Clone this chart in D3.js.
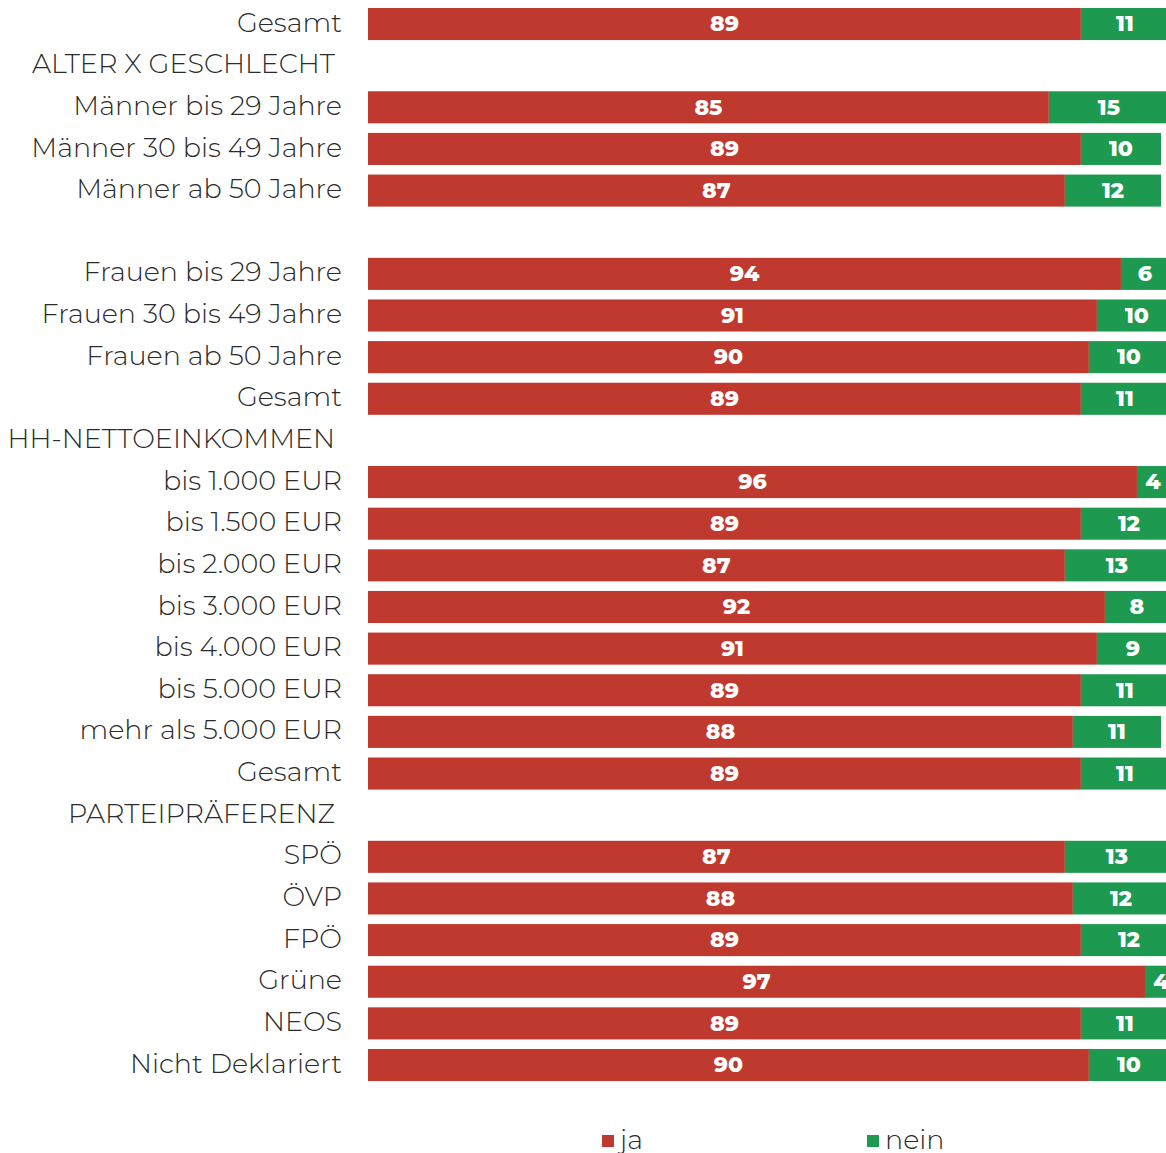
<!DOCTYPE html>
<html>
<head>
<meta charset="utf-8">
<script src="https://cdn.jsdelivr.net/npm/d3@7"></script>
<style>
  body { margin: 0; background: #fff; }
  svg { display: block; }
  .lbl { font-family: Montserrat, "Open Sans", sans-serif; font-weight: 300; fill: #2b2b2b; }
  .val { font-family: Montserrat, "Open Sans", sans-serif; font-weight: 800; fill: #fff; }
</style>
</head>
<body>
<svg id="chart"></svg>
<script>
// row labels, header rows have type 'h', empty spacer 'e', bars 'b'
const labels = [
  'Gesamt', 'ALTER X GESCHLECHT', 'Männer bis 29 Jahre', 'Männer 30 bis 49 Jahre', 'Männer ab 50 Jahre', '',
  'Frauen bis 29 Jahre', 'Frauen 30 bis 49 Jahre', 'Frauen ab 50 Jahre', 'Gesamt', 'HH-NETTOEINKOMMEN',
  'bis 1.000 EUR', 'bis 1.500 EUR', 'bis 2.000 EUR', 'bis 3.000 EUR', 'bis 4.000 EUR', 'bis 5.000 EUR',
  'mehr als 5.000 EUR', 'Gesamt', 'PARTEIPRÄFERENZ', 'SPÖ', 'ÖVP', 'FPÖ', 'Grüne', 'NEOS', 'Nicht Deklariert',
];
const rowType = ['b', 'h', 'b', 'b', 'b', 'e', 'b', 'b', 'b', 'b', 'h', 'b', 'b', 'b', 'b', 'b', 'b', 'b', 'b', 'h', 'b', 'b', 'b', 'b', 'b', 'b'];
const ja = [89, null, 85, 89, 87, null, 94, 91, 90, 89, null, 96, 89, 87, 92, 91, 89, 88, 89, null, 87, 88, 89, 97, 89, 90];
const nein = [11, null, 15, 10, 12, null, 6, 10, 10, 11, null, 4, 12, 13, 8, 9, 11, 11, 11, null, 13, 12, 12, 4, 11, 10];
const seriesNames = ['ja', 'nein'];
const colors = ['#c0392e', '#1e9a50'];

const width = 1166;
const height = 1153;

const svg = d3.select('#chart').attr('width', width).attr('height', height);

const y = d3.scaleBand()
  .domain(d3.range(labels.length))
  .range([3.2, 3.2 + labels.length * 41.64])
  .paddingInner(0.23)
  .paddingOuter(0.115);

const x = d3.scaleLinear().domain([0, 100]).range([368, 1169]);

const color = d3.scaleOrdinal().domain(seriesNames).range(colors);

const rows = labels.map((l, i) => ({
  i, label: l, type: rowType[i], ja: ja[i], nein: nein[i],
}));
const barRows = rows.filter((d) => d.type === 'b');

const stack = d3.stack().keys(seriesNames)(barRows);

// bars
svg.append('g')
  .selectAll('g')
  .data(stack)
  .join('g')
  .attr('fill', (d) => color(d.key))
  .selectAll('rect')
  .data((d) => d)
  .join('rect')
  .attr('x', (d) => x(d[0]))
  .attr('y', (d) => y(d.data.i))
  .attr('width', (d) => x(d[1]) - x(d[0]))
  .attr('height', y.bandwidth());

// value labels
svg.append('g')
  .selectAll('g')
  .data(stack)
  .join('g')
  .selectAll('text')
  .data((d) => d)
  .join('text')
  .attr('class', 'val')
  .attr('x', (d) => (x(d[0]) + x(d[1])) / 2)
  .attr('y', (d) => y(d.data.i) + y.bandwidth() / 2)
  .attr('dy', '0.33em')
  .attr('text-anchor', 'middle')
  .attr('font-size', 22)
  .text((d) => d[1] - d[0]);

// category labels
svg.append('g')
  .selectAll('text')
  .data(rows.filter((d) => d.type !== 'e'))
  .join('text')
  .attr('class', 'lbl')
  .attr('x', (d) => (d.type === 'h' ? 335 : 342))
  .attr('y', (d) => y(d.i) + y.bandwidth() / 2)
  .attr('dy', '0.28em')
  .attr('text-anchor', 'end')
  .attr('font-size', 27)
  .text((d) => d.label);

// legend
const legendX = [602, 867];
const legend = svg.append('g')
  .selectAll('g')
  .data(seriesNames)
  .join('g')
  .attr('transform', (d, i) => `translate(${legendX[i]},1141)`);
legend.append('rect')
  .attr('x', 0)
  .attr('y', -6)
  .attr('width', 12)
  .attr('height', 12)
  .attr('fill', (d) => color(d));
legend.append('text')
  .attr('class', 'lbl')
  .attr('x', 18)
  .attr('dy', '0.3em')
  .attr('font-size', 27)
  .text((d) => d);
</script>
</body>
</html>
